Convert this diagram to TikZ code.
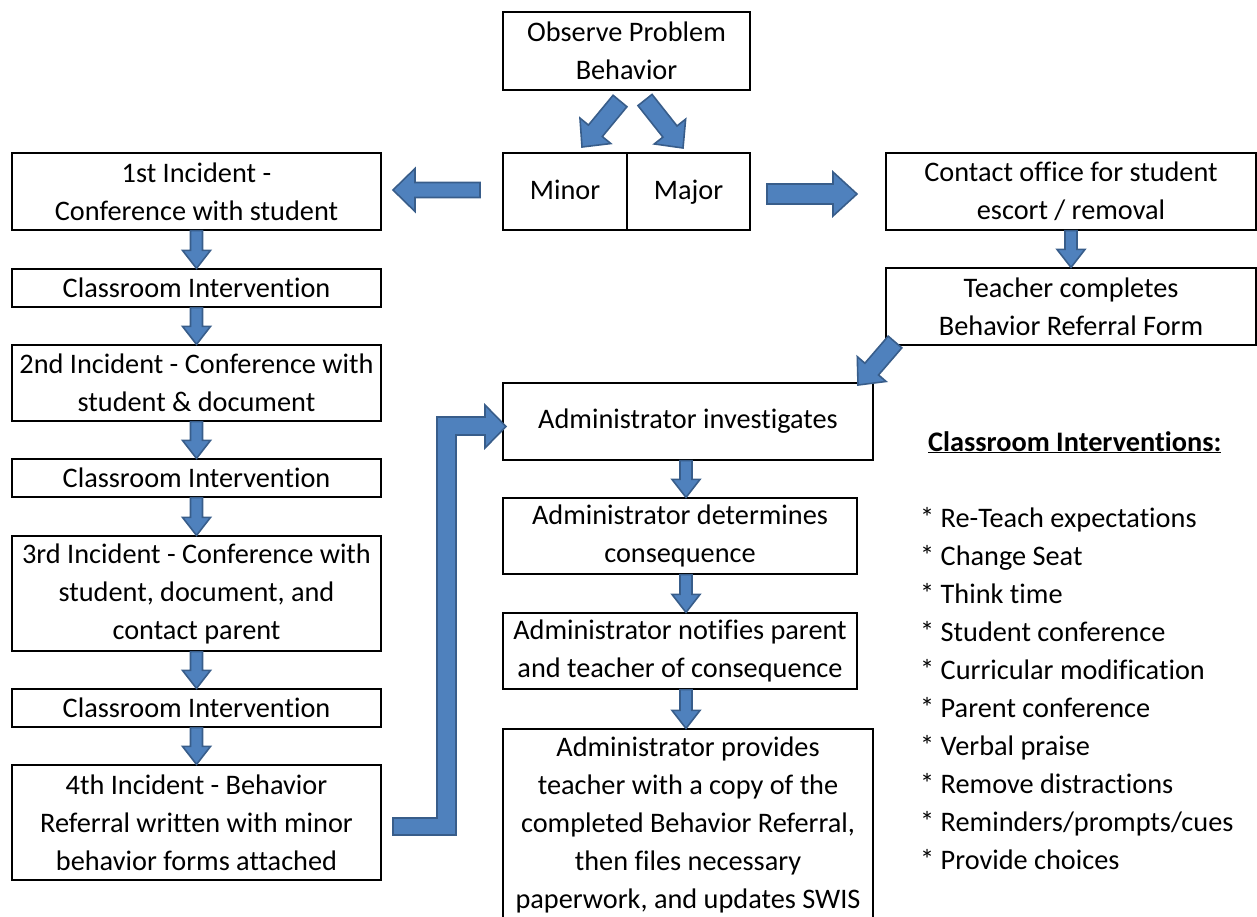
\documentclass[tikz,border=0pt]{standalone}
\usepackage{fontspec}
\setmainfont[Ligatures=NoCommon]{Carlito}
\usetikzlibrary{calc}
\definecolor{arrowfill}{HTML}{4F81BD}
\definecolor{arrowline}{HTML}{385D8A}
\newcommand\fsz{\fontsize{28.3}{38}\selectfont}
\newcommand\barrow[5]{%
  \coordinate (ba-s) at (#1);
  \coordinate (ba-e) at (#2);
  \coordinate (ba-h) at ($(ba-e)!#5!(ba-s)$);
  \draw[blockarrow] ($(ba-s)!#3!90:(ba-e)$) -- ($(ba-h)!#3!-90:(ba-s)$) -- ($(ba-h)!#4!-90:(ba-s)$) -- (ba-e) -- ($(ba-h)!#4!90:(ba-s)$) -- ($(ba-h)!#3!90:(ba-s)$) -- ($(ba-s)!#3!-90:(ba-e)$) -- cycle;}
\tikzset{
  box/.style={draw=black, line width=1.2pt, align=center, inner sep=0pt, font=\fsz},
  blockarrow/.style={fill=arrowfill, draw=arrowline, line width=1.6pt, line join=miter},
  plain/.style={inner sep=0pt, font=\fsz, align=left}
}
\begin{document}
\begin{tikzpicture}[x=1pt,y=-1pt]
\useasboundingbox (0,0) rectangle (1257,916);
% top
\node[box, minimum width=247pt, minimum height=78pt] (obs) at (626.5,51) {Observe Problem\\Behavior};
\node[box, minimum width=124pt, minimum height=77pt] (minor) at (565,191.5) {Minor\strut};
\node[box, minimum width=123pt, minimum height=77pt] (major) at (688.5,191.5) {Major\strut};
% left column
\node[box, minimum width=369pt, minimum height=77pt] (inc1) at (196.5,191.5) {1st Incident -\\Conference with student};
\node[box, minimum width=369pt, minimum height=38pt] (ci1) at (196.5,288) {Classroom Intervention};
\node[box, minimum width=369pt, minimum height=76pt] (inc2) at (196.5,383) {2nd Incident - Conference with\\student \& document};
\node[box, minimum width=369pt, minimum height=38pt] (ci2) at (196.5,478) {Classroom Intervention};
\node[box, minimum width=369pt, minimum height=115pt] (inc3) at (196.5,593.5) {3rd Incident - Conference with\\student, document, and\\contact parent};
\node[box, minimum width=369pt, minimum height=38pt] (ci3) at (196.5,708) {Classroom Intervention};
\node[box, minimum width=369pt, minimum height=115pt] (inc4) at (196.5,822.5) {4th Incident - Behavior\\Referral written with minor\\behavior forms attached};
% right column
\node[box, minimum width=370pt, minimum height=77pt] (contact) at (1071,191.5) {Contact office for student\\escort / removal};
\node[box, minimum width=370pt, minimum height=77pt] (teacher) at (1071,306.5) {Teacher completes\\Behavior Referral Form};
% admin column
\node[box, minimum width=370pt, minimum height=77pt] (inv) at (688,421.5) {Administrator investigates};
\node[box, minimum width=354pt, minimum height=76pt] (det) at (680,536) {\rule{0pt}{0pt}\raisebox{-2pt}{\parbox{350pt}{\centering Administrator determines\\consequence}}};
\node[box, minimum width=354pt, minimum height=76pt] (notif) at (680,651) {\raisebox{-2pt}{\parbox{350pt}{\centering Administrator notifies parent\\and teacher of consequence}}};
\begin{scope}
\clip (0,0) rectangle (1257,916);
\node[box, minimum width=370pt, minimum height=192pt] (prov) at (688,825) {Administrator provides\\teacher with a copy of the\\completed Behavior Referral,\\then files necessary\\paperwork, and updates SWIS};
\end{scope}
% list
\node[plain, anchor=base west] (head) at (928,451) {\textbf{\underline{Classroom Interventions:}}};
\node[plain, anchor=north west] (list) at (920,507) {* Re-Teach expectations\\* Change Seat\\* Think time\\* Student conference\\* Curricular modification\\* Parent conference\\* Verbal praise\\* Remove distractions\\* Reminders/prompts/cues\\* Provide choices};
% arrows
\coordinate (ol) at (620,101);
\coordinate (olt) at (582,147);
\coordinate (or) at (645,100);
\coordinate (ort) at (683,148);
\barrow{ol}{olt}{9pt}{20pt}{21pt}
\barrow{or}{ort}{9pt}{20pt}{21pt}
\coordinate (lt) at (480,190);
\coordinate (lh) at (393,190);
\barrow{lt}{lh}{7.5pt}{21.5pt}{22pt}
\coordinate (rt) at (767,194);
\coordinate (rh) at (857,194);
\barrow{rt}{rh}{10pt}{22pt}{24pt}
% left down arrows
\barrow{inc1.south}{ci1.north}{6pt}{14pt}{18pt}
\barrow{ci1.south}{inc2.north}{6pt}{14pt}{18pt}
\barrow{inc2.south}{ci2.north}{6pt}{14pt}{18pt}
\barrow{ci2.south}{inc3.north}{6pt}{14pt}{18pt}
\barrow{inc3.south}{ci3.north}{6pt}{14pt}{18pt}
\barrow{ci3.south}{inc4.north}{6pt}{14pt}{18pt}
% right down arrow
\barrow{contact.south}{teacher.north}{6pt}{14pt}{18pt}
\coordinate (dt) at (895,342);
\coordinate (dh) at (858,385);
\barrow{dt}{dh}{9pt}{19pt}{21pt}
% admin column arrows
\coordinate (acol) at (686,0);
\barrow{inv.south -| acol}{det.north -| acol}{6pt}{14pt}{18pt}
\barrow{det.south -| acol}{notif.north -| acol}{6pt}{14pt}{18pt}
\barrow{notif.south -| acol}{prov.north -| acol}{6pt}{14pt}{18pt}
% elbow arrow from inc4 to inv
\draw[blockarrow] (393,818) -- (437,818) -- (437,417) -- (485,417) -- (485,405) -- (506,426.5) -- (485,448) -- (485,435) -- (456,435) -- (456,835) -- (393,835) -- cycle;
\end{tikzpicture}
\end{document}
